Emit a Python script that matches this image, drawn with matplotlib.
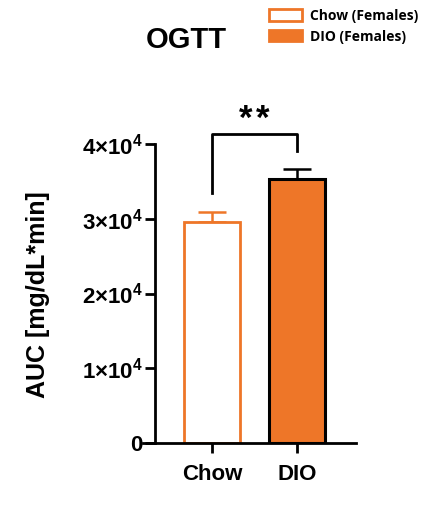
import numpy as np
import matplotlib
matplotlib.use('Agg')
import matplotlib.pyplot as plt
from matplotlib.patches import Patch

plt.rcParams['font.family'] = 'Liberation Sans'
plt.rcParams['font.weight'] = 'bold'
plt.rcParams['mathtext.fontset'] = 'custom'
plt.rcParams['mathtext.rm'] = 'Liberation Sans:bold'
plt.rcParams['mathtext.it'] = 'Liberation Sans:bold'
plt.rcParams['mathtext.bf'] = 'Liberation Sans:bold'

# data
groups = ['Chow', 'DIO']
legend_labels = ['Chow (Females)', 'DIO (Females)']
auc_mean = [2.95e4, 3.53e4]
auc_sem = [0.14e4, 0.135e4]
yticks = [0, 1e4, 2e4, 3e4, 4e4]
ytick_labels = ['0', r'$1{\times}10^{4}$', r'$2{\times}10^{4}$',
                r'$3{\times}10^{4}$', r'$4{\times}10^{4}$']
sig_label = '**'

orange = '#EE7628'

fig = plt.figure(figsize=(4.27, 5.05), dpi=100)
ax = fig.add_axes([143 / 427, 62 / 505, 213 / 427, 299 / 505])

x = np.arange(len(groups))
ax.bar(x[0], auc_mean[0], width=0.65, color='white', edgecolor=orange,
       linewidth=2.0, zorder=2)
ax.bar(x[1], auc_mean[1], width=0.65, color=orange, edgecolor='black',
       linewidth=2.2, zorder=2)
ax.errorbar(x[0], auc_mean[0], yerr=[[0], [auc_sem[0]]], color=orange,
            elinewidth=1.8, capsize=10, capthick=1.8, zorder=1)
ax.errorbar(x[1], auc_mean[1], yerr=[[0], [auc_sem[1]]], color='black',
            elinewidth=1.8, capsize=10, capthick=1.8, zorder=1)

# significance bracket
ax.plot([0, 0, 1, 1], [3.34e4, 4.14e4, 4.14e4, 3.9e4], color='black',
        lw=2.0, clip_on=False)
for i, ch in enumerate(sig_label):
    ax.text(0.5 + (i - 0.5) * 0.2, 4.33e4, ch, ha='center', va='center',
            fontsize=25, fontweight='bold', clip_on=False)

ax.set_xlim(-0.812, 1.694)
ax.set_ylim(0, 4e4)
ax.spines['left'].set_position(('data', -0.671))
for s in ['top', 'right']:
    ax.spines[s].set_visible(False)
for s in ['left', 'bottom']:
    ax.spines[s].set_linewidth(2.0)
ax.set_xticks(x)
ax.set_xticklabels(groups, fontsize=16, fontweight='bold')
ax.set_yticks(yticks)
ax.set_yticklabels(ytick_labels, fontsize=16, fontweight='bold')
ax.tick_params(axis='both', width=2.0, length=7)
ax.tick_params(axis='y', pad=2)
ax.tick_params(axis='x', pad=8)
ax.set_ylabel('AUC [mg/dL*min]', fontsize=18, fontweight='bold')
ax.yaxis.set_label_coords(-0.435, 0.497)

fig.text(186 / 427, 1 - 40 / 505, 'OGTT', ha='center', va='center',
         fontsize=21, fontweight='bold')

handles = [Patch(facecolor='white', edgecolor=orange, linewidth=2.0),
           Patch(facecolor=orange, edgecolor=orange, linewidth=2.0)]
fig.legend(handles, legend_labels, loc='upper left',
           bbox_to_anchor=(263 / 427, 1 - 3 / 505), frameon=False,
           prop={'family': 'Open Sans', 'weight': 'bold', 'size': 10},
           handlelength=2.4, handleheight=0.9, labelspacing=0.5,
           handletextpad=0.6, borderaxespad=0)

fig.savefig('out.png', dpi=100)
